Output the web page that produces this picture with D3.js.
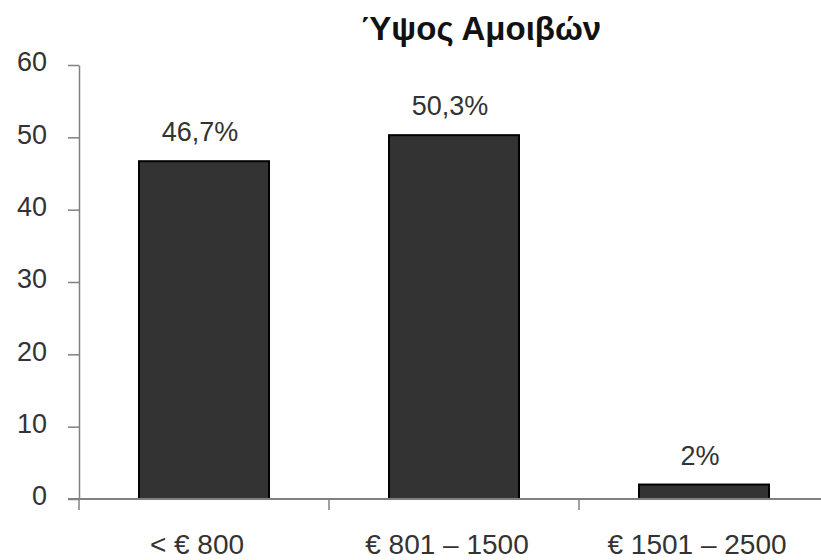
<!DOCTYPE html>
<html>
<head>
<meta charset="utf-8">
<script src="https://cdn.jsdelivr.net/npm/d3@7"></script>
<style>
  body { margin: 0; background: #fff; }
  text { font-family: "Liberation Sans", Arial, sans-serif; }
</style>
</head>
<body>
<svg width="821" height="560"></svg>
<script>
// chart data
const title = "Ύψος Αμοιβών";
const categories = ["< € 800", "€ 801 – 1500", "€ 1501 – 2500"];
const values = [46.7, 50.3, 2];
const valueLabels = ["46,7%", "50,3%", "2%"];
const yTicks = [0, 10, 20, 30, 40, 50, 60];

let svg = d3.select("svg");

// plot area
let plotLeft = 79, plotRight = 829, plotTop = 65, plotBottom = 499;

let x = d3.scaleBand()
    .domain(categories)
    .range([plotLeft, plotRight])
    .paddingInner(0.48)
    .paddingOuter(0.24);

let y = d3.scaleLinear()
    .domain([0, 60])
    .range([plotBottom, plotTop]);

// y axis
let yAxis = svg.append("g")
    .attr("transform", `translate(${plotLeft},0)`)
    .call(d3.axisLeft(y).tickValues(yTicks).tickSize(11).tickPadding(21).tickSizeOuter(0));
yAxis.select(".domain").attr("stroke", "#808080").attr("stroke-width", 1.5);
yAxis.selectAll(".tick line").attr("stroke", "#808080").attr("stroke-width", 1.5);
yAxis.selectAll(".tick text")
    .attr("font-family", "Liberation Sans, Arial, sans-serif")
    .style("font-size", "27px")
    .attr("fill", "#333")
    .attr("dy", "0.22em");

// bars
svg.selectAll("rect.bar")
    .data(values)
    .enter()
    .append("rect")
    .attr("class", "bar")
    .attr("x", (d, i) => x(categories[i]))
    .attr("y", d => y(d))
    .attr("width", x.bandwidth())
    .attr("height", d => plotBottom - y(d))
    .attr("fill", "#333333")
    .attr("stroke", "#000")
    .attr("stroke-width", 2);

// x axis line + category ticks
svg.append("line")
    .attr("x1", plotLeft - 11)
    .attr("x2", 821)
    .attr("y1", plotBottom)
    .attr("y2", plotBottom)
    .attr("stroke", "#808080")
    .attr("stroke-width", 2);

let bounds = d3.range(categories.length + 1).map(i => plotLeft + i * x.step());
svg.selectAll("line.xtick")
    .data(bounds)
    .enter()
    .append("line")
    .attr("class", "xtick")
    .attr("x1", d => d)
    .attr("x2", d => d)
    .attr("y1", plotBottom)
    .attr("y2", plotBottom + 11)
    .attr("stroke", "#808080")
    .attr("stroke-width", 1.5);

// category labels
svg.selectAll("text.cat")
    .data(categories)
    .enter()
    .append("text")
    .attr("class", "cat")
    .attr("x", d => x(d) + x.bandwidth() / 2 - 7)
    .attr("y", 554)
    .attr("text-anchor", "middle")
    .style("font-size", "28px")
    .attr("fill", "#333")
    .text(d => d);

// value labels
svg.selectAll("text.val")
    .data(values)
    .enter()
    .append("text")
    .attr("class", "val")
    .attr("x", (d, i) => x(categories[i]) + x.bandwidth() / 2 - 4)
    .attr("y", d => y(d) - 20)
    .attr("text-anchor", "middle")
    .style("font-size", "27px")
    .attr("fill", "#333")
    .text((d, i) => valueLabels[i]);

// title
svg.append("text")
    .attr("x", 481)
    .attr("y", 40)
    .attr("text-anchor", "middle")
    .style("font-size", "33px")
    .style("font-weight", "bold")
    .attr("fill", "#111")
    .text(title);
</script>
</body>
</html>
